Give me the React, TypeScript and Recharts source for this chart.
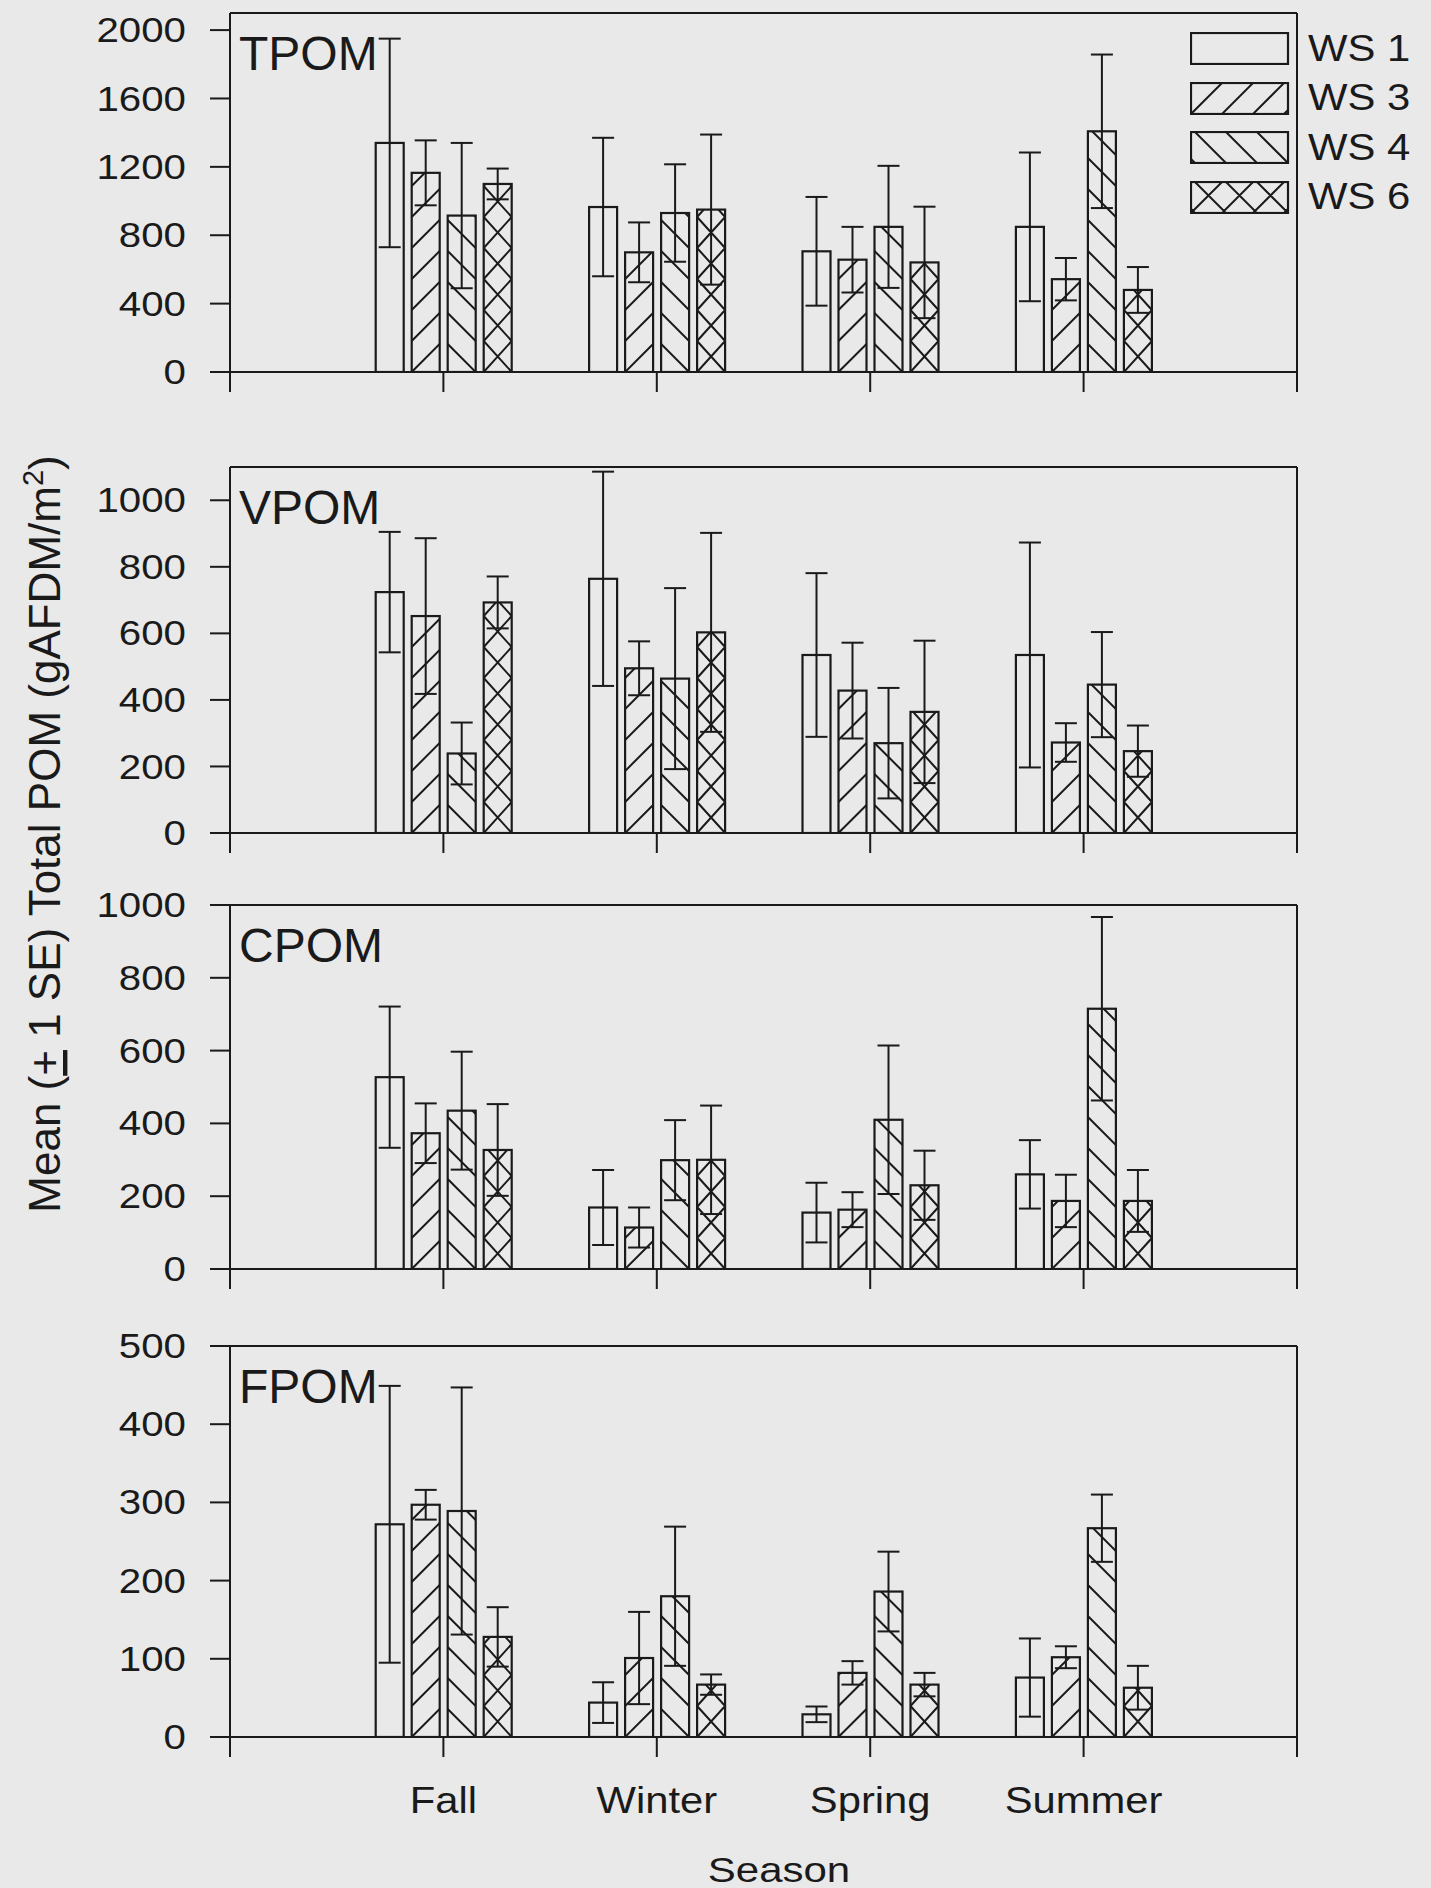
import React from 'react';
import { BarChart, Bar, XAxis, YAxis, ErrorBar, ReferenceLine, Legend } from 'recharts';

const seasons = ['Fall', 'Winter', 'Spring', 'Summer'];
const seasonPos = [1, 2, 3, 4];
const xTicks = [0, 1, 2, 3, 4, 5];
const sites = ['WS 1', 'WS 3', 'WS 4', 'WS 6'];
const siteKeys = ['ws1', 'ws3', 'ws4', 'ws6'];
const hatchKinds = ['none', 'fwd', 'back', 'cross'];

// rows: WS 1, WS 3, WS 4, WS 6 ; columns: Fall, Winter, Spring, Summer
const tpomMean = [
  [1340, 965, 706, 849],
  [1165, 700, 657, 543],
  [915, 930, 849, 1408],
  [1100, 950, 641, 480],
];
const tpomSE = [
  [610, 405, 318, 435],
  [190, 175, 192, 124],
  [425, 285, 357, 449],
  [90, 439, 326, 134],
];
const tpomTicks = [0, 400, 800, 1200, 1600, 2000];

const vpomMean = [
  [724, 764, 535, 535],
  [652, 495, 428, 272],
  [239, 464, 270, 446],
  [693, 603, 364, 246],
];
const vpomSE = [
  [181, 322, 246, 338],
  [234, 81, 144, 58],
  [93, 272, 166, 158],
  [78, 299, 214, 77],
];
const vpomTicks = [0, 200, 400, 600, 800, 1000];

const cpomMean = [
  [527, 169, 155, 260],
  [373, 114, 163, 187],
  [435, 299, 410, 715],
  [327, 300, 230, 187],
];
const cpomSE = [
  [194, 103, 82, 94],
  [82, 55, 48, 72],
  [162, 110, 204, 252],
  [126, 149, 95, 85],
];
const cpomTicks = [0, 200, 400, 600, 800, 1000];

const fpomMean = [
  [272, 44, 29, 76],
  [297, 101, 82, 102],
  [289, 180, 186, 267],
  [128, 67, 67, 63],
];
const fpomSE = [
  [177, 26, 10, 50],
  [19, 59, 15, 14],
  [158, 89, 51, 43],
  [38, 13, 15, 28],
];
const fpomTicks = [0, 100, 200, 300, 400, 500];

const INK = '#1a1a1a';
const BG = '#e9e9e9';
const FONT = '"Liberation Sans", Arial, Helvetica, sans-serif';
const PLOT_LEFT = 230;
const PLOT_RIGHT = 1297;
const PAGE_W = 1431;
const PAGE_H = 1888;

function buildRows(mean: number[][], se: number[][]) {
  return seasons.map((season, j) => {
    const row: Record<string, number | string> = { season, pos: seasonPos[j] };
    siteKeys.forEach((k, i) => {
      row[k] = mean[i][j];
      row[k + 'se'] = se[i][j];
    });
    return row;
  });
}

const panels = [
  { name: 'TPOM', top: 13, bottom: 372, max: 2100, ticks: tpomTicks, rows: buildRows(tpomMean, tpomSE) },
  { name: 'VPOM', top: 467, bottom: 833, max: 1100, ticks: vpomTicks, rows: buildRows(vpomMean, vpomSE) },
  { name: 'CPOM', top: 905, bottom: 1269, max: 1000, ticks: cpomTicks, rows: buildRows(cpomMean, cpomSE) },
  { name: 'FPOM', top: 1346, bottom: 1737, max: 500, ticks: fpomTicks, rows: buildRows(fpomMean, fpomSE) },
];

// hatch lines inside a box, built from the bottom edge up
function hatchLines(x: number, y: number, w: number, h: number, kind: string) {
  if (kind === 'none') return '';
  const P = 31;
  const cellW = w > 40 ? P : w;
  const s = kind === 'cross' ? P / cellW : 1;
  const rise = w * s;
  const b = y + h;
  const segs: string[] = [];
  const n0 = -Math.ceil(rise / P) - 1;
  const n1 = Math.ceil(h / P) + 1;
  for (let i = n0; i <= n1; i++) {
    const y0 = b - i * P;
    if (kind === 'fwd' || kind === 'cross') segs.push(`M${x},${y0}L${x + w},${y0 - rise}`);
    if (kind === 'back' || kind === 'cross') segs.push(`M${x},${y0 - rise}L${x + w},${y0}`);
  }
  return segs.join('');
}

function HatchBar(props: any) {
  const { x, y, width, height, kind, clipId } = props;
  if (x == null || y == null || !width || !height || height <= 0) return null;
  return (
    <g>
      <clipPath id={clipId}>
        <rect x={x} y={y} width={width} height={height} />
      </clipPath>
      <path d={hatchLines(x, y, width, height, kind)} stroke={INK} strokeWidth={2} fill="none" clipPath={`url(#${clipId})`} />
      <rect x={x} y={y} width={width} height={height} fill="none" stroke={INK} strokeWidth={2.2} />
    </g>
  );
}

function YTick(props: any) {
  const { x, y, payload } = props;
  return (
    <text
      x={x}
      y={y}
      textAnchor="end"
      dominantBaseline="central"
      fontSize={35}
      fontFamily={FONT}
      fill={INK}
      transform={`translate(${x} ${y}) scale(1.15 1) translate(${-x} ${-y})`}
    >
      {payload.value}
    </text>
  );
}

function SeasonTick(props: any) {
  const { x, y, payload } = props;
  const label = ['', ...seasons, ''][payload.value] ?? '';
  if (!label) return null;
  return (
    <text
      x={x}
      y={y}
      dy="0.71em"
      textAnchor="middle"
      fontSize={36}
      fontFamily={FONT}
      fill={INK}
      transform={`translate(${x} ${y}) scale(1.16 1) translate(${-x} ${-y})`}
    >
      {label}
    </text>
  );
}

function LegendBox() {
  return (
    <div style={{ fontFamily: FONT, color: INK }}>
      {sites.map((s, i) => (
        <div key={s} style={{ display: 'flex', alignItems: 'center', height: 49.5 }}>
          <svg width={100} height={33} style={{ display: 'block' }}>
            <clipPath id={`leg-${i}`}>
              <rect x={1} y={1} width={97} height={31} />
            </clipPath>
            <path d={hatchLines(1, 1, 97, 31, hatchKinds[i])} stroke={INK} strokeWidth={2} fill="none" clipPath={`url(#leg-${i})`} />
            <rect x={1} y={1} width={97} height={31} fill="none" stroke={INK} strokeWidth={2.2} />
          </svg>
          <span style={{ marginLeft: 18, fontSize: 37, display: 'inline-block', transform: 'scaleX(1.13)', transformOrigin: 'left center', whiteSpace: 'nowrap' }}>
            {s}
          </span>
        </div>
      ))}
    </div>
  );
}

function Panel({ p, isBottom, showLegend }: any) {
  const mTop = 30;
  const axisH = isBottom ? 100 : 40;
  const plotH = p.bottom - p.top;
  return (
    <div style={{ position: 'absolute', left: 0, top: p.top - mTop }}>
      <BarChart
        width={PAGE_W}
        height={mTop + plotH + axisH}
        data={p.rows}
        margin={{ top: mTop, right: PAGE_W - PLOT_RIGHT, left: 0, bottom: 0 }}
        barGap={8}
      >
        <XAxis
          type="number"
          dataKey="pos"
          domain={[0, 5]}
          ticks={xTicks}
          interval={0}
          allowDataOverflow
          height={axisH}
          tickSize={20}
          tickMargin={30}
          axisLine={{ stroke: INK, strokeWidth: 2 }}
          tickLine={{ stroke: INK, strokeWidth: 2 }}
          tick={isBottom ? SeasonTick : () => null}
        />
        <YAxis
          type="number"
          domain={[0, p.max]}
          ticks={p.ticks}
          interval={0}
          allowDataOverflow
          width={PLOT_LEFT}
          tickSize={20}
          tickMargin={24}
          axisLine={{ stroke: INK, strokeWidth: 2 }}
          tickLine={{ stroke: INK, strokeWidth: 2 }}
          tick={YTick}
        />
        <ReferenceLine y={p.max} stroke={INK} strokeWidth={2} />
        <ReferenceLine x={5} stroke={INK} strokeWidth={2} />
        {siteKeys.map((k, i) => (
          <Bar
            key={k}
            dataKey={k}
            name={sites[i]}
            barSize={28}
            isAnimationActive={false}
            shape={(bp: any) => (
              <HatchBar {...bp} kind={hatchKinds[i]} clipId={`${p.name}-${k}-${Math.round(bp.x)}`} />
            )}
          >
            <ErrorBar dataKey={k + 'se'} width={11} stroke={INK} strokeWidth={2} direction="y" />
          </Bar>
        ))}
        {showLegend && (
          <Legend
            layout="vertical"
            align="center"
            verticalAlign="middle"
            content={() => <LegendBox />}
            wrapperStyle={{ left: 1190, top: 32 - (p.top - mTop) - 8, width: 240, margin: 0 }}
          />
        )}
      </BarChart>
    </div>
  );
}

export default function App() {
  return (
    <div style={{ position: 'absolute', left: 0, top: 0, width: PAGE_W, height: PAGE_H, background: BG, overflow: 'hidden' }}>
      {panels.map((p, i) => (
        <Panel key={p.name} p={p} isBottom={i === panels.length - 1} showLegend={i === 0} />
      ))}
      <svg width={PAGE_W} height={PAGE_H} style={{ position: 'absolute', left: 0, top: 0, pointerEvents: 'none' }}>
        {panels.map((p) => (
          <text key={p.name} x={PLOT_LEFT + 9} y={p.top + 57} fontSize={48} fontFamily={FONT} fill={INK}>
            {p.name}
          </text>
        ))}
        <text
          transform="translate(60 834) rotate(-90)"
          textAnchor="middle"
          fontSize={44}
          fontFamily={FONT}
          fill={INK}
        >
          Mean (<tspan textDecoration="underline">+</tspan> 1 SE) Total POM (gAFDM/m
          <tspan dy={-17} fontSize={29}>2</tspan>
          <tspan dy={17}>)</tspan>
        </text>
        <text
          x={779}
          y={1882}
          textAnchor="middle"
          fontSize={35}
          fontFamily={FONT}
          fill={INK}
          transform="translate(779 1882) scale(1.2 1) translate(-779 -1882)"
        >
          Season
        </text>
      </svg>
    </div>
  );
}
